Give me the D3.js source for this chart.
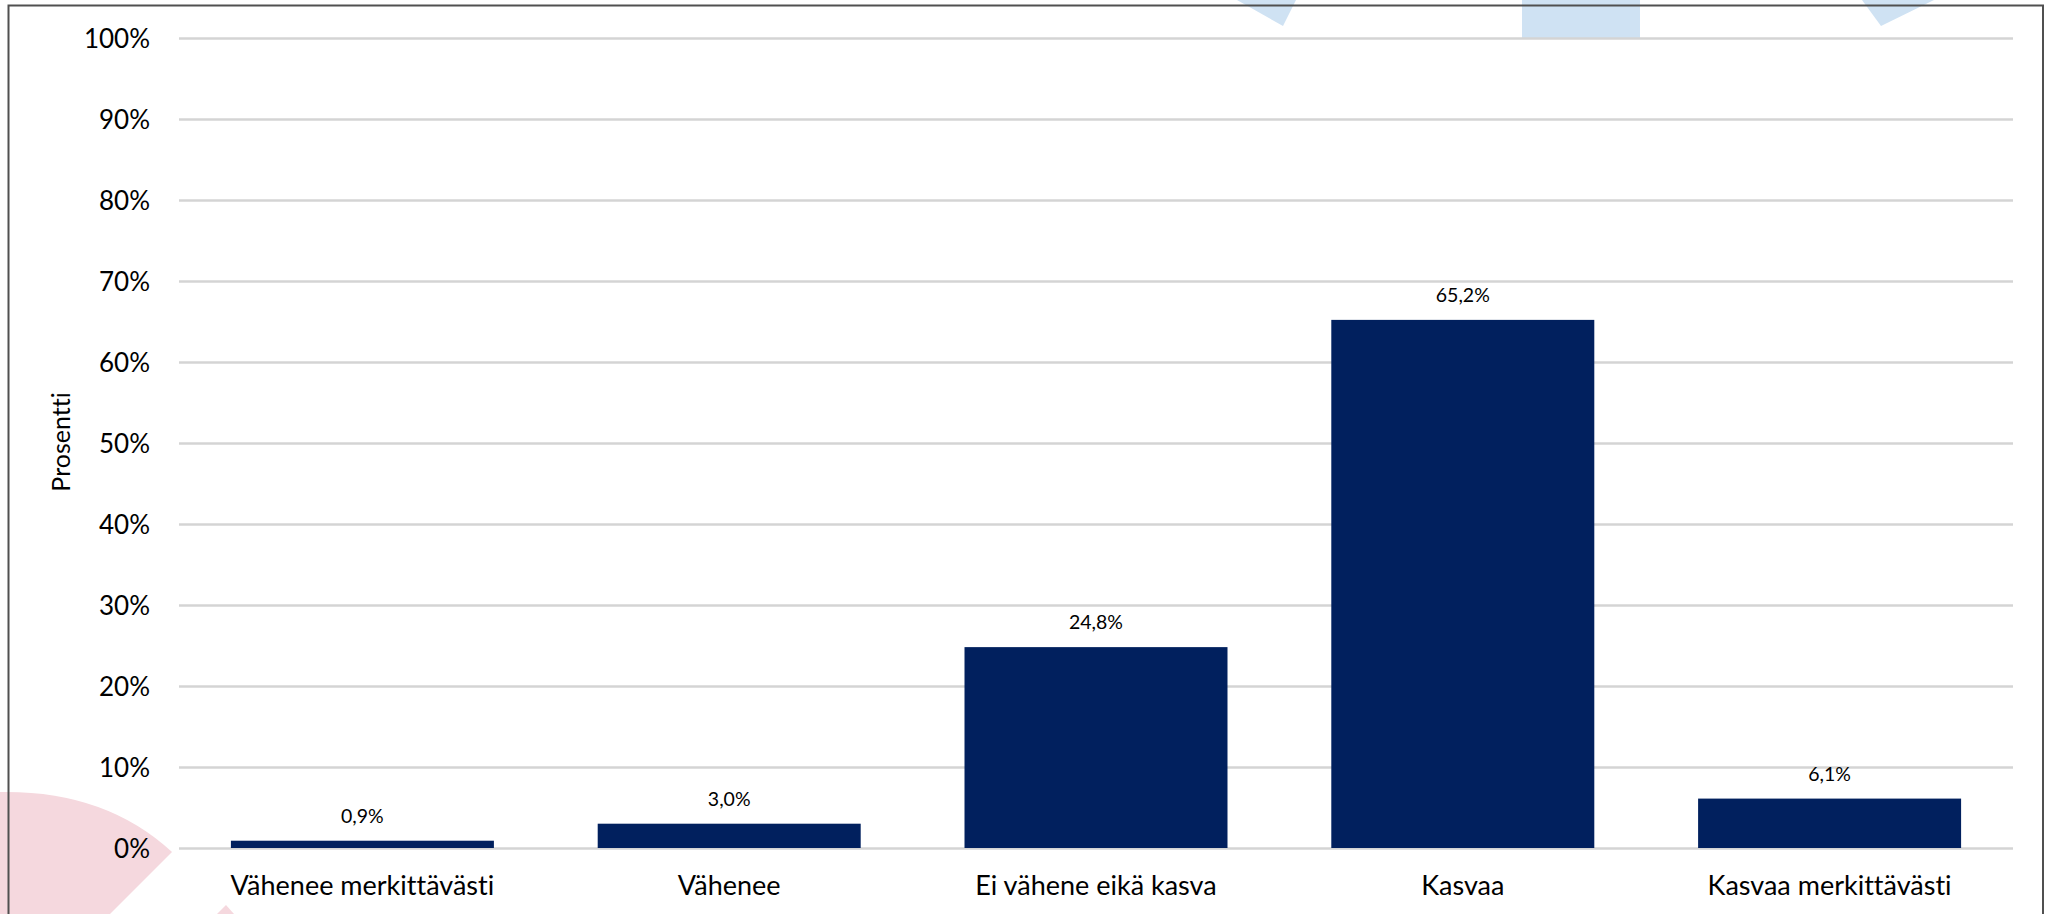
<!DOCTYPE html>
<html><head><meta charset="utf-8">
<script src="https://cdn.jsdelivr.net/npm/d3@7"></script>
<style>body{margin:0;background:#fff;} svg{display:block} text{font-variant-ligatures:none;}</style>
</head><body>
<svg id="c" width="2052" height="914"></svg>
<script>
const categories = ["Vähenee merkittävästi", "Vähenee", "Ei vähene eikä kasva", "Kasvaa", "Kasvaa merkittävästi"];
const values = [0.9, 3.0, 24.8, 65.2, 6.1];
const valueLabels = ["0,9%", "3,0%", "24,8%", "65,2%", "6,1%"];
const yTicks = [0, 10, 20, 30, 40, 50, 60, 70, 80, 90, 100];
const yTickLabels = ["0%", "10%", "20%", "30%", "40%", "50%", "60%", "70%", "80%", "90%", "100%"];
const yTitle = "Prosentti";

const W = 2052, H = 914;
const plot = {left: 179, right: 2013, top: 38, bottom: 848};
const FONT = "Lato, 'Noto Sans', sans-serif";

const svg = d3.select("#c");
svg.append("rect").attr("width", W).attr("height", H).attr("fill", "#fff");

// decorative background shapes
const deco = svg.append("g");
deco.append("path").attr("d", "M1237,0 L1283,26 L1296,0 Z").attr("fill", "#cfe2f3");
deco.append("rect").attr("x", 1522).attr("y", 0).attr("width", 118).attr("height", 38).attr("fill", "#cfe2f3");
deco.append("path").attr("d", "M1862,0 L1881,26 L1934,0 Z").attr("fill", "#cfe2f3");
deco.append("path").attr("d", "M0,792 Q105,790 172,852 L110,914 L0,914 Z").attr("fill", "#f5d8de");
deco.append("path").attr("d", "M217,914 L226,905 L234,914 Z").attr("fill", "#f5d8de");

const x = d3.scaleBand().domain(categories).range([plot.left, plot.right])
  .paddingInner(0.283).paddingOuter(0.1415);
const y = d3.scaleLinear().domain([0, 100]).range([plot.bottom, plot.top]);

// gridlines + y tick labels
const yAxis = d3.axisLeft(y).tickValues(yTicks)
  .tickFormat((d, i) => yTickLabels[i])
  .tickSize(-(plot.right - plot.left)).tickPadding(29);
const gy = svg.append("g").attr("transform", `translate(${plot.left},0)`).call(yAxis);
gy.select(".domain").remove();
gy.selectAll(".tick line").attr("stroke", "#d4d4d4").attr("stroke-width", 2.6);
gy.selectAll(".tick text").attr("font-family", FONT).attr("font-size", 26)
  .attr("fill", "#000").attr("dy", "0.35em");

// bars
svg.append("g").selectAll("rect").data(values).join("rect")
  .attr("x", (d, i) => x(categories[i]))
  .attr("width", x.bandwidth())
  .attr("y", d => y(d))
  .attr("height", d => y(0) - y(d))
  .attr("fill", "#01205e");

// value labels
svg.append("g").selectAll("text").data(values).join("text")
  .attr("x", (d, i) => x(categories[i]) + x.bandwidth() / 2)
  .attr("y", d => y(d) - 18)
  .attr("text-anchor", "middle")
  .attr("font-family", FONT).attr("font-size", 19.5).attr("fill", "#000")
  .text((d, i) => valueLabels[i]);

// category axis
const xAxis = d3.axisBottom(x).tickSize(0).tickPadding(0);
const gx = svg.append("g").attr("transform", `translate(0,${plot.bottom})`).call(xAxis);
gx.select(".domain").remove();
gx.selectAll(".tick text").attr("font-family", FONT).attr("font-size", 27)
  .attr("fill", "#000").attr("y", 47).attr("dy", 0);

// y title
svg.append("text").attr("transform", "translate(70,442) rotate(-90)")
  .attr("text-anchor", "middle").attr("font-family", FONT).attr("font-size", 25)
  .attr("fill", "#000").text(yTitle);

// frame
svg.append("path").attr("d", `M8.5,${H + 5} L8.5,5.5 L2043,5.5 L2043,${H + 5}`)
  .attr("fill", "none").attr("stroke", "#505050").attr("stroke-width", 2);
</script>
</body></html>
